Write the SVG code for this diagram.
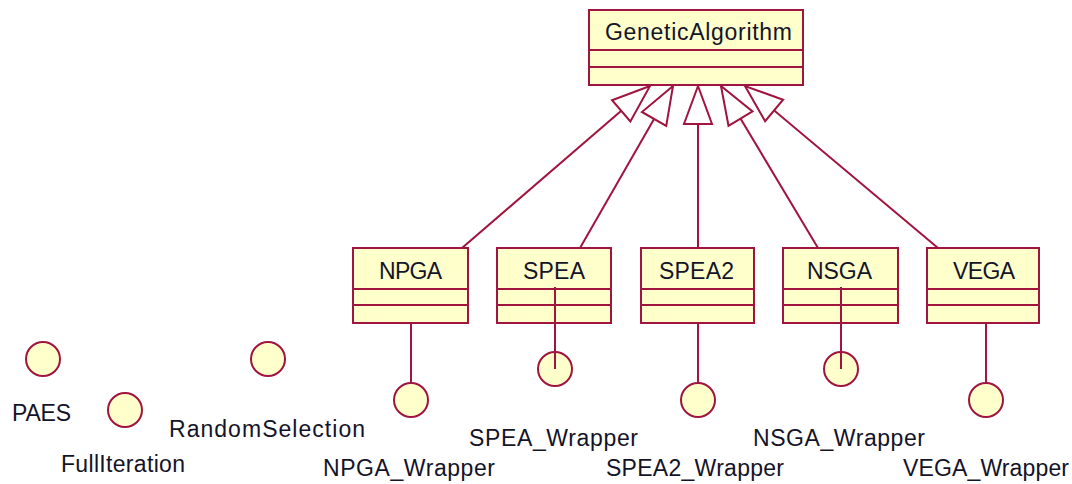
<svg xmlns="http://www.w3.org/2000/svg" width="1072" height="484" viewBox="0 0 1072 484">
<style>
.box{fill:#ffffcb;stroke:#a0143f;stroke-width:2}
.div{stroke:#a0143f;stroke-width:2}
.lbl{font-family:"Liberation Sans",Arial,sans-serif;font-size:23px;fill:#141428}
.iface{fill:#ffffcb;stroke:#a0143f;stroke-width:2}
.conn{stroke:#a0143f;stroke-width:2;fill:none}
</style>
<defs>
<marker id="gen" markerUnits="userSpaceOnUse" markerWidth="44" markerHeight="34" viewBox="-42 -17 44 34" refX="0" refY="0" orient="auto">
<path d="M0,0 L-38,-14 L-38,14 Z" fill="#ffffff" stroke="#a0143f" stroke-width="2"/>
</marker>
</defs>
<rect width="1072" height="484" fill="#ffffff"/>
<g id="GeneticAlgorithm">
<rect class="box" x="589" y="10" width="214" height="75"/>
<line class="div" x1="589" y1="50" x2="803" y2="50"/>
<line class="div" x1="589" y1="67" x2="803" y2="67"/>
<text class="lbl" x="605" y="40" textLength="187" lengthAdjust="spacing">GeneticAlgorithm</text>
</g>
<g id="NPGA">
<rect class="box" x="353" y="248" width="115" height="75"/>
<line class="div" x1="353" y1="289" x2="468" y2="289"/>
<line class="div" x1="353" y1="305" x2="468" y2="305"/>
<text class="lbl" x="379" y="279" textLength="63" lengthAdjust="spacing">NPGA</text>
</g>
<g id="SPEA">
<rect class="box" x="497" y="248" width="114" height="75"/>
<line class="div" x1="497" y1="289" x2="611" y2="289"/>
<line class="div" x1="497" y1="305" x2="611" y2="305"/>
<text class="lbl" x="523" y="279" textLength="62" lengthAdjust="spacing">SPEA</text>
</g>
<g id="SPEA2">
<rect class="box" x="641" y="248" width="113" height="75"/>
<line class="div" x1="641" y1="289" x2="754" y2="289"/>
<line class="div" x1="641" y1="305" x2="754" y2="305"/>
<text class="lbl" x="659" y="279" textLength="75" lengthAdjust="spacing">SPEA2</text>
</g>
<g id="NSGA">
<rect class="box" x="783" y="248" width="115" height="75"/>
<line class="div" x1="783" y1="289" x2="898" y2="289"/>
<line class="div" x1="783" y1="305" x2="898" y2="305"/>
<text class="lbl" x="807" y="279" textLength="65" lengthAdjust="spacing">NSGA</text>
</g>
<g id="VEGA">
<rect class="box" x="927" y="248" width="112" height="75"/>
<line class="div" x1="927" y1="289" x2="1039" y2="289"/>
<line class="div" x1="927" y1="305" x2="1039" y2="305"/>
<text class="lbl" x="953" y="279" textLength="62" lengthAdjust="spacing">VEGA</text>
</g>
<g id="PAES">
<circle class="iface" cx="43" cy="359" r="17"/>
<text class="lbl" x="12" y="421" textLength="59" lengthAdjust="spacing">PAES</text>
</g>
<g id="FullIteration">
<circle class="iface" cx="125" cy="410" r="17"/>
<text class="lbl" x="61" y="472" textLength="124" lengthAdjust="spacing">FullIteration</text>
</g>
<g id="RandomSelection">
<circle class="iface" cx="268" cy="359" r="17"/>
<text class="lbl" x="169" y="437" textLength="196" lengthAdjust="spacing">RandomSelection</text>
</g>
<g id="NPGA_Wrapper">
<circle class="iface" cx="411" cy="400" r="17"/>
<text class="lbl" x="323" y="476" textLength="172" lengthAdjust="spacing">NPGA_Wrapper</text>
</g>
<g id="SPEA_Wrapper">
<circle class="iface" cx="555" cy="369" r="17"/>
<text class="lbl" x="469" y="446" textLength="169" lengthAdjust="spacing">SPEA_Wrapper</text>
</g>
<g id="SPEA2_Wrapper">
<circle class="iface" cx="698" cy="400" r="17"/>
<text class="lbl" x="606" y="476" textLength="178" lengthAdjust="spacing">SPEA2_Wrapper</text>
</g>
<g id="NSGA_Wrapper">
<circle class="iface" cx="841" cy="369" r="17"/>
<text class="lbl" x="753" y="446" textLength="172" lengthAdjust="spacing">NSGA_Wrapper</text>
</g>
<g id="VEGA_Wrapper">
<circle class="iface" cx="986" cy="400" r="17"/>
<text class="lbl" x="903" y="476" textLength="166" lengthAdjust="spacing">VEGA_Wrapper</text>
</g>
<g id="connectors">
<line class="conn" x1="462" y1="248" x2="650" y2="86" marker-end="url(#gen)"/>
<line class="conn" x1="580" y1="248" x2="673" y2="86" marker-end="url(#gen)"/>
<line class="conn" x1="698" y1="248" x2="698" y2="86" marker-end="url(#gen)"/>
<line class="conn" x1="818" y1="248" x2="721" y2="86" marker-end="url(#gen)"/>
<line class="conn" x1="938" y1="248" x2="745" y2="86" marker-end="url(#gen)"/>
<line class="conn" x1="411" y1="323" x2="411" y2="383"/>
<line class="conn" x1="698" y1="323" x2="698" y2="383"/>
<line class="conn" x1="986" y1="323" x2="986" y2="383"/>
<line class="conn" x1="555" y1="287" x2="555" y2="369"/>
<line class="conn" x1="841" y1="287" x2="841" y2="369"/>
</g>
</svg>
